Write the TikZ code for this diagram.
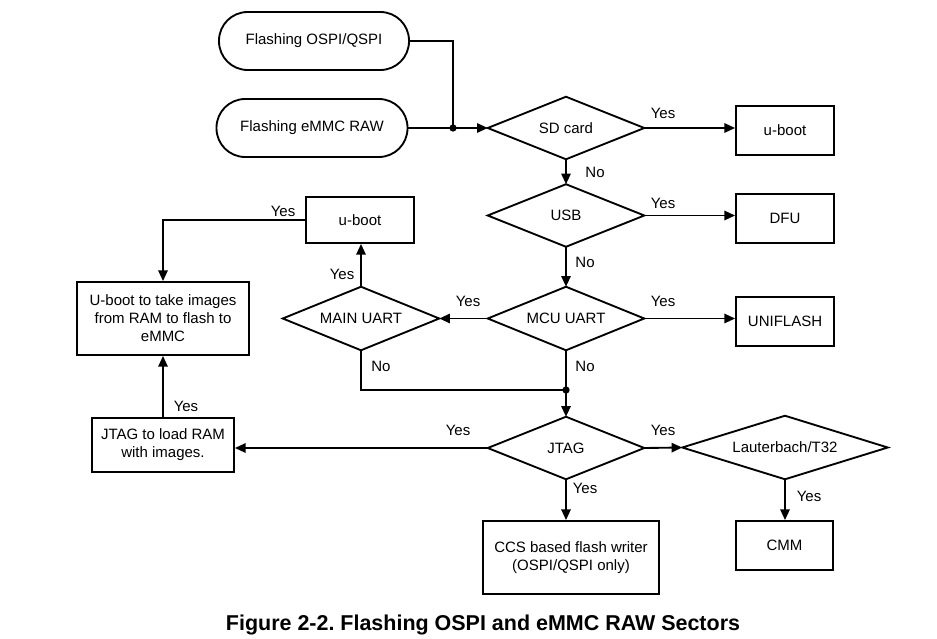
\documentclass[tikz,border=0pt]{standalone}
\usepackage{fontspec}
\setmainfont{Liberation Sans}
\usetikzlibrary{arrows.meta}
\frenchspacing
\begin{document}
\begin{tikzpicture}[x=0.75pt,y=-0.75pt,
  line/.style={line width=1.4pt},
  arr/.style={line width=1.4pt,-{Triangle[length=8pt,width=7pt]}},
  term/.style={draw,line width=1.4pt,rounded corners=21.5pt,minimum width=142.5pt,minimum height=43.5pt,inner sep=0pt,font=\fontsize{11.25}{13.5}\selectfont},
  proc/.style={draw,line width=1.4pt,minimum width=73.5pt,minimum height=36.75pt,inner sep=0pt,align=center,font=\fontsize{11.25}{13.5}\selectfont},
  dec/.style={minimum width=117pt,minimum height=46.5pt,inner sep=0pt,font=\fontsize{11.25}{13.5}\selectfont},
  lbl/.style={font=\fontsize{11.25}{13.5}\selectfont,inner sep=0pt},
  dot/.style={circle,fill,inner sep=0pt,minimum size=5.5pt}]
\useasboundingbox (0,0) rectangle (937,638);
% nodes
\node[term] (ospi) at (314,41) {Flashing OSPI/QSPI};
\node[term,minimum width=143.25pt] (emmc) at (312,128) {Flashing eMMC RAW};
\node[dec] (sd) at (566,128) {SD card};
\node[proc] (ub1) at (785,130.5) {u-boot};
\node[dec] (usb) at (566,215.5) {USB};
\node[proc] (dfu) at (785,218.5) {DFU};
\node[dec,minimum height=47.25pt] (mcu) at (566,318.5) {MCU UART};
\node[proc] (uni) at (785,321.5) {UNIFLASH};
\node[dec,minimum height=47.25pt] (main) at (361,318.5) {MAIN UART};
\node[proc,minimum width=81pt,minimum height=34.5pt] (ub2) at (360,220) {u-boot};
\node[proc,minimum width=129pt,minimum height=54.75pt] (take) at (163,318.5) {U-boot to take images\\from RAM to flash to\\eMMC};
\node[proc,minimum width=106.5pt,minimum height=40.5pt] (jload) at (163,445) {JTAG to load RAM\\with images.};
\node[dec] (jtag) at (566,448) {JTAG};
\node[dec,minimum width=153.75pt,minimum height=47.25pt] (lau) at (785,447.5) {Lauterbach/T32};
\node[proc,minimum width=132pt,minimum height=54.75pt] (ccs) at (571,557.5) {CCS based flash writer\\(OSPI/QSPI only)};
\node[proc,minimum width=72.75pt] (cmm) at (784.5,545.5) {CMM};
% diamonds
\foreach \n in {sd,usb,mcu,main,jtag,lau}
  \draw[line,line join=miter] (\n.north)--(\n.east)--(\n.south)--(\n.west)--cycle;
% junctions
\node[dot] (j1) at (453,128) {};
\node[dot] (j2) at (566,390) {};
% connectors
\draw[line] (ospi.east) -| (j1.center);
\draw[arr] (emmc.east) -- (sd.west);
\draw[arr] (sd.east) -- (sd.east -| ub1.west);
\draw[arr] (sd.south) -- (usb.north);
\draw[arr] (usb.east) -- (usb.east -| dfu.west);
\draw[arr] (usb.south) -- (mcu.north);
\draw[arr] (mcu.east) -- (mcu.east -| uni.west);
\draw[arr] (mcu.west) -- (main.east);
\draw[arr] (main.north) -- (main.north |- ub2.south);
\draw[arr] (ub2.west) -| (take.north);
\draw[line] (main.south) |- (j2.center);
\draw[arr] (mcu.south) -- (jtag.north);
\draw[arr] (jtag.west) -- (jtag.west -| jload.east);
\draw[arr] (jload.north) -- (take.south);
\draw[arr] (jtag.east) -- (lau.west);
\draw[arr] (jtag.south) -- (jtag.south |- ccs.north);
\draw[arr] (lau.south) -- (lau.south |- cmm.north);
% labels
\node[lbl] at (663,113) {Yes};
\node[lbl] at (595,172) {No};
\node[lbl] at (663,203) {Yes};
\node[lbl] at (585,262) {No};
\node[lbl] at (663,301) {Yes};
\node[lbl] at (468,301) {Yes};
\node[lbl] at (585,366) {No};
\node[lbl] at (381,366) {No};
\node[lbl] at (342,274) {Yes};
\node[lbl] at (283,211) {Yes};
\node[lbl] at (186,406) {Yes};
\node[lbl] at (458,430) {Yes};
\node[lbl] at (663,430) {Yes};
\node[lbl] at (585,488) {Yes};
\node[lbl] at (809,496) {Yes};
% caption
\node[font=\bfseries\fontsize{16.1}{19}\selectfont,inner sep=0pt] (cap) at (483,625) {Figure 2-2. Flashing OSPI and eMMC RAW Sectors};
\end{tikzpicture}
\end{document}
